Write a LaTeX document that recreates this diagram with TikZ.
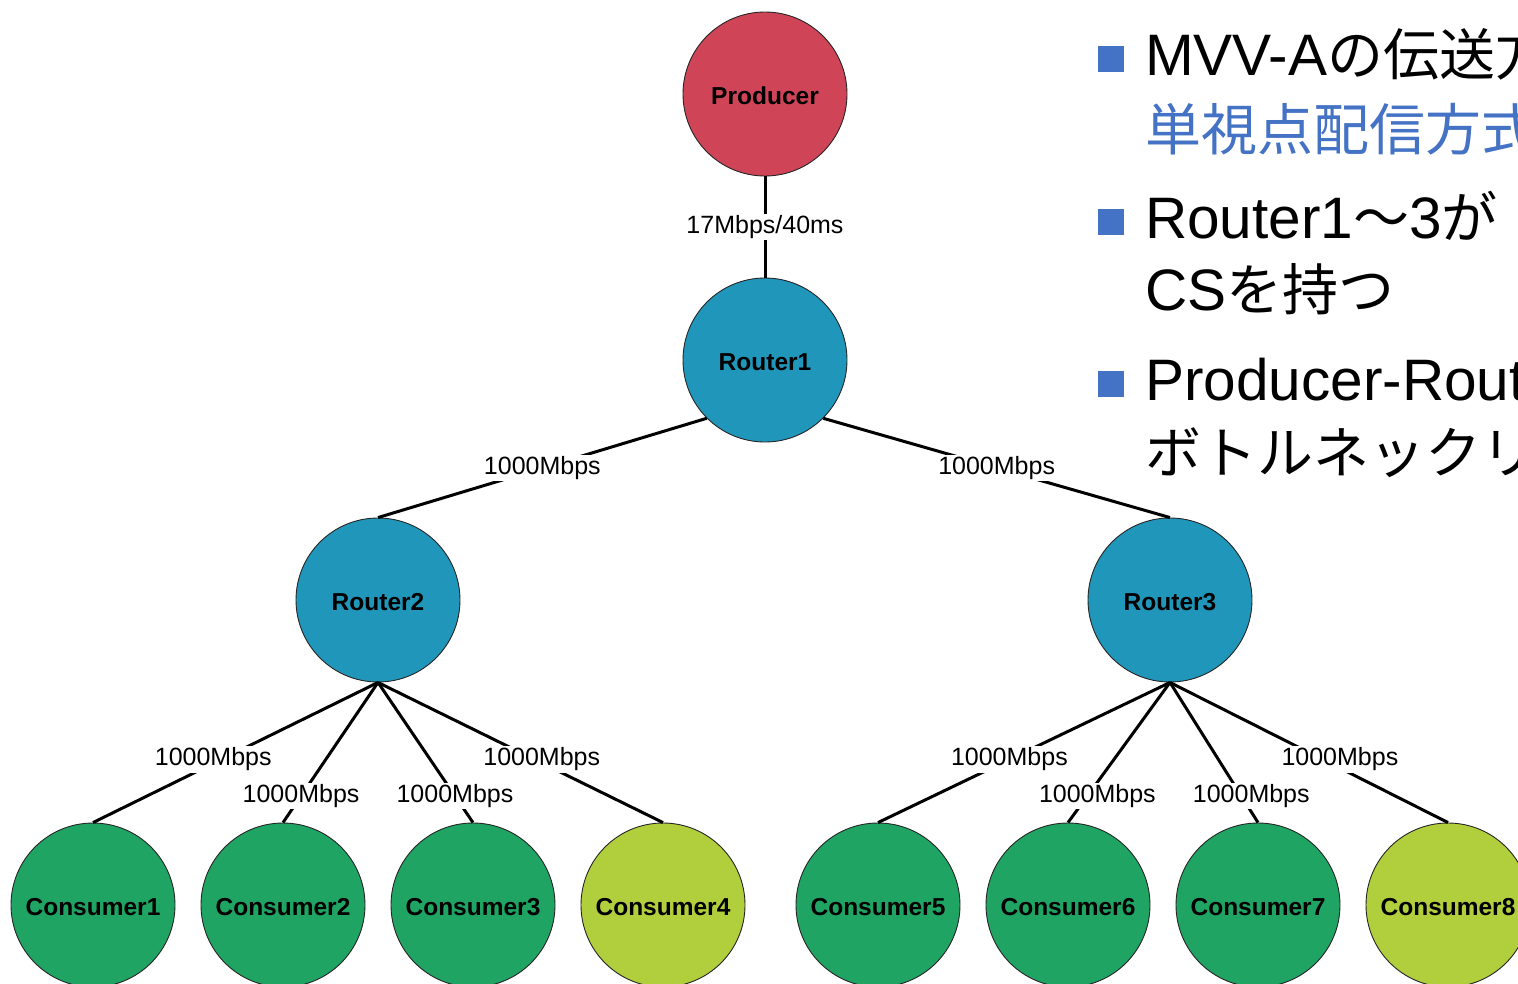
\documentclass[tikz,border=0pt]{standalone}
\usepackage{fontspec}
\setmainfont{Liberation Sans}
\newfontfamily\jp{Noto Sans CJK JP}

\definecolor{prodred}{HTML}{D04458}
\definecolor{routblue}{HTML}{2097BA}
\definecolor{consgreen}{HTML}{1FA463}
\definecolor{conslime}{HTML}{B1CF3D}
\definecolor{bulletblue}{HTML}{4472C4}

\newcommand{\jpt}[1]{{\jp\fontsize{56}{60}\selectfont #1}}

\tikzset{
  host/.style={circle, draw=black!85, line width=0.9pt, minimum size=164pt,
    inner sep=0pt, text height=21.6pt, text depth=0pt,
    font=\fontsize{24.5}{28}\selectfont\bfseries},
  producer/.style={host, fill=prodred},
  router/.style={host, fill=routblue},
  consumer/.style={host, fill=consgreen},
  lastconsumer/.style={host, fill=conslime},
  link/.style={line width=3pt},
  lbl/.style={fill=white, inner sep=1.5pt, font=\fontsize{25}{28}\selectfont},
  bulletsq/.style={fill=bulletblue, minimum size=26pt, inner sep=0pt},
  bullettext/.style={anchor=base west, inner sep=0pt, font=\fontsize{58.5}{62}\selectfont},
}

\begin{document}
\begin{tikzpicture}[x=1pt, y=-1pt]
\useasboundingbox (0,0) rectangle (1518,983);
\clip (0,0) rectangle (1518,983);
\fill[white] (0,0) rectangle (1518,983);

% network nodes
\node[producer] (p)  at (765,94)  {Producer};
\node[router]   (r1) at (765,360) {Router1};
\node[router]   (r2) at (378,600) {Router2};
\node[router]   (r3) at (1170,600) {Router3};

\node[consumer]     (c1) at (93,905)   {Consumer1};
\node[consumer]     (c2) at (283,905)  {Consumer2};
\node[consumer]     (c3) at (473,905)  {Consumer3};
\node[lastconsumer] (c4) at (663,905)  {Consumer4};
\node[consumer]     (c5) at (878,905)  {Consumer5};
\node[consumer]     (c6) at (1068,905) {Consumer6};
\node[consumer]     (c7) at (1258,905) {Consumer7};
\node[lastconsumer] (c8) at (1448,905) {Consumer8};

% links with their bandwidth labels
\draw[link] (p.south) -- node[lbl] {17Mbps/40ms} (r1.north);
\draw[link] (r1.south west) -- node[lbl] {1000Mbps} (r2.north);
\draw[link] (r1.south east) -- node[lbl] {1000Mbps} (r3.north);

\draw[link] (r2.south) -- node[lbl, pos=0.55, xshift=-8] {1000Mbps} (c1.north);
\draw[link] (r2.south) -- node[lbl, pos=0.81] {1000Mbps} (c2.north);
\draw[link] (r2.south) -- node[lbl, pos=0.81] {1000Mbps} (c3.north);
\draw[link] (r2.south) -- node[lbl, pos=0.55, xshift=7] {1000Mbps} (c4.north);

\draw[link] (r3.south) -- node[lbl, pos=0.55] {1000Mbps} (c5.north);
\draw[link] (r3.south) -- node[lbl, pos=0.81, xshift=10] {1000Mbps} (c6.north);
\draw[link] (r3.south) -- node[lbl, pos=0.81, xshift=10] {1000Mbps} (c7.north);
\draw[link] (r3.south) -- node[lbl, pos=0.55, xshift=17] {1000Mbps} (c8.north);

% bullet list
\node[bulletsq] (b1) at (1111,59) {};
\node[bullettext] (t1a) at (1145,75) {MVV-A\jpt{の伝送方式}};
\node[bullettext, text=bulletblue] (t1b) at (1145,150) {\jpt{単視点配信方式}};

\node[bulletsq] (b2) at (1111,222) {};
\node[bullettext] (t2a) at (1145,238) {Router1\jpt{～}3\jpt{が}};
\node[bullettext] (t2b) at (1145,310) {CS\jpt{を持つ}};

\node[bulletsq] (b3) at (1111,384) {};
\node[bullettext] (t3a) at (1145,400) {Producer-Router1\jpt{間が}};
\node[bullettext] (t3b) at (1145,473) {\jpt{ボトルネックリンク}};
\end{tikzpicture}
\end{document}
